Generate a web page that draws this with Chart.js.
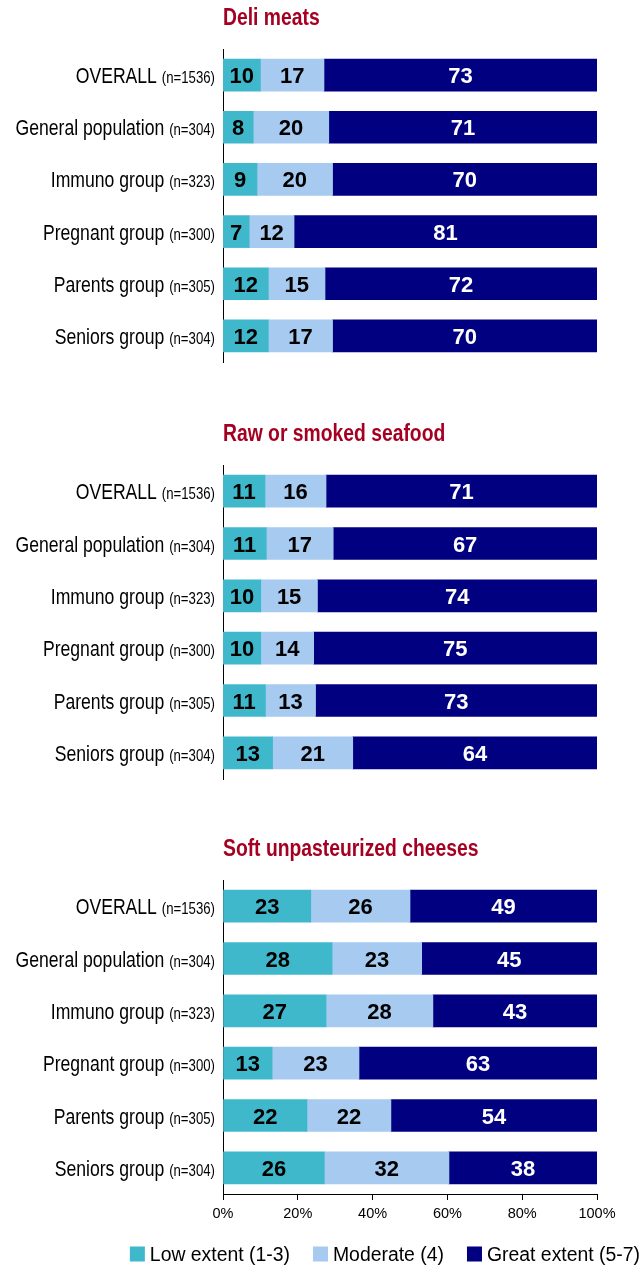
<!DOCTYPE html>
<html>
<head>
<meta charset="utf-8">
<script src="https://cdn.jsdelivr.net/npm/chart.js@4.4.0/dist/chart.umd.min.js"></script>
<style>
  html, body { margin: 0; padding: 0; background: #fff; }
  #page { position: relative; width: 642px; height: 1266px; }
  .panel { position: absolute; left: 0; width: 642px; }
</style>
</head>
<body>
<div id="page">
  <div class="panel" style="top:0;height:400px"><canvas id="deli"></canvas></div>
  <div class="panel" style="top:400px;height:415px"><canvas id="seafood"></canvas></div>
  <div class="panel" style="top:815px;height:451px"><canvas id="cheese"></canvas></div>
</div>
<script>
// Row labels and sample sizes (same for all three panels)
const groups = ['OVERALL', 'General population', 'Immuno group', 'Pregnant group', 'Parents group', 'Seniors group'];
const sampleSizes = [1536, 304, 323, 300, 305, 304];

const seriesNames = ['Low extent (1-3)', 'Moderate (4)', 'Great extent (5-7)'];
const seriesColors = ['#40B8CC', '#A6CAF0', '#000080'];
const valueColors = ['#000', '#000', '#fff'];
const xTicks = [0, 20, 40, 60, 80, 100];

// Deli meats
const deliLow = [10, 8, 9, 7, 12, 12];
const deliModerate = [17, 20, 20, 12, 15, 17];
const deliGreat = [73, 71, 70, 81, 72, 70];

// Raw or smoked seafood
const seafoodLow = [11, 11, 10, 10, 11, 13];
const seafoodModerate = [16, 17, 15, 14, 13, 21];
const seafoodGreat = [71, 67, 74, 75, 73, 64];

// Soft unpasteurized cheeses
const cheeseLow = [23, 28, 27, 13, 22, 26];
const cheeseModerate = [26, 23, 28, 23, 22, 32];
const cheeseGreat = [49, 45, 43, 63, 54, 38];

const FONT = '"Liberation Sans", Arial, sans-serif';

// Draws panel title, two-size row labels, value labels and (last panel) the legend
const decorPlugin = {
    id: 'decor',
    afterDraw: function(chart, args, opts) {
        const ctx = chart.ctx;
        const area = chart.chartArea;
        const yScale = chart.scales.y;

        // title (narrow bold look)
        ctx.save();
        ctx.fillStyle = '#A50021';
        ctx.font = 'bold 23px ' + FONT;
        ctx.textBaseline = 'alphabetic';
        ctx.translate(area.left, area.top - 24);
        ctx.scale(0.84, 1);
        ctx.fillText(opts.title, 0, 0);
        ctx.restore();

        // row labels: big group name + small sample size
        groups.forEach((name, i) => {
            const y = yScale.getPixelForValue(i);
            ctx.save();
            ctx.translate(area.left - 8, y + 8);
            ctx.scale(0.8, 1);
            ctx.textAlign = 'right';
            ctx.textBaseline = 'alphabetic';
            ctx.fillStyle = '#000';
            ctx.font = '16.5px ' + FONT;
            const nText = '(n=' + sampleSizes[i] + ')';
            ctx.fillText(nText, 0, 0);
            const w = ctx.measureText(nText).width;
            ctx.font = '22px ' + FONT;
            ctx.fillText(name + ' ', -w, 0);
            ctx.restore();
        });

        // value labels in the middle of each segment
        ctx.save();
        ctx.font = 'bold 22px ' + FONT;
        ctx.textAlign = 'center';
        ctx.textBaseline = 'alphabetic';
        chart.data.datasets.forEach((ds, di) => {
            const meta = chart.getDatasetMeta(di);
            ctx.fillStyle = valueColors[di];
            meta.data.forEach((bar, i) => {
                const p = bar.getProps(['x', 'y', 'base'], true);
                ctx.fillText(String(ds.rawValues[i]), (p.x + p.base) / 2, p.y + 8);
            });
        });
        ctx.restore();

        // legend, right aligned
        if (opts.legend) {
            ctx.save();
            const box = 15, gap = 5, itemGap = 23;
            ctx.font = '19.4px ' + FONT;
            const widths = seriesNames.map(t => ctx.measureText(t).width);
            const total = widths.reduce((a, b) => a + b, 0) + seriesNames.length * (box + gap) + (seriesNames.length - 1) * itemGap;
            let x = chart.width - 2 - total;
            const cy = opts.legendY;
            seriesNames.forEach((t, k) => {
                ctx.fillStyle = seriesColors[k];
                ctx.fillRect(x, cy - box / 2, box, box);
                x += box + gap;
                ctx.fillStyle = '#000';
                ctx.textBaseline = 'alphabetic';
                ctx.fillText(t, x, cy + 7);
                x += widths[k] + itemGap;
            });
            ctx.restore();
        }
    }
};

function makeChart(id, title, low, moderate, great, layout) {
    const totals = low.map((v, i) => v + moderate[i] + great[i]);
    const share = arr => arr.map((v, i) => v / totals[i] * 100);
    const isLast = !!layout.legend;

    return new Chart(document.getElementById(id), {
        type: 'bar',
        data: {
            labels: groups,
            datasets: [low, moderate, great].map((vals, k) => ({
                label: seriesNames[k],
                data: share(vals),
                rawValues: vals,
                backgroundColor: seriesColors[k],
                borderWidth: 0,
                barThickness: 32
            }))
        },
        options: {
            indexAxis: 'y',
            responsive: true,
            maintainAspectRatio: false,
            animation: false,
            layout: {
                padding: { top: layout.top, right: 45, bottom: layout.bottom, left: 0 }
            },
            plugins: {
                legend: { display: false },
                tooltip: { enabled: false },
                decor: { title: title, legend: isLast, legendY: layout.legendY }
            },
            scales: {
                x: {
                    stacked: true,
                    min: 0,
                    max: 100,
                    display: isLast,
                    afterBuildTicks: s => { s.ticks = xTicks.map(v => ({ value: v })); },
                    afterFit: s => { s.height = isLast ? 30 : 0; },
                    ticks: {
                        callback: v => v + '%',
                        color: '#000',
                        padding: 5,
                        maxRotation: 0,
                        font: { family: FONT, size: 14.5 }
                    },
                    grid: { drawOnChartArea: false, tickLength: 6, color: '#000' },
                    border: { display: true, color: '#000' }
                },
                y: {
                    stacked: true,
                    ticks: { display: false },
                    grid: { display: false },
                    border: { display: true, color: '#000', width: 1 },
                    afterFit: s => { s.width = 223; }
                }
            }
        },
        plugins: [decorPlugin]
    });
}

makeChart('deli', 'Deli meats', deliLow, deliModerate, deliGreat, { top: 49, bottom: 38 });
makeChart('seafood', 'Raw or smoked seafood', seafoodLow, seafoodModerate, seafoodGreat, { top: 65, bottom: 36 });
makeChart('cheese', 'Soft unpasteurized cheeses', cheeseLow, cheeseModerate, cheeseGreat, { top: 65, bottom: 42, legend: true, legendY: 439 });
</script>
</body>
</html>
